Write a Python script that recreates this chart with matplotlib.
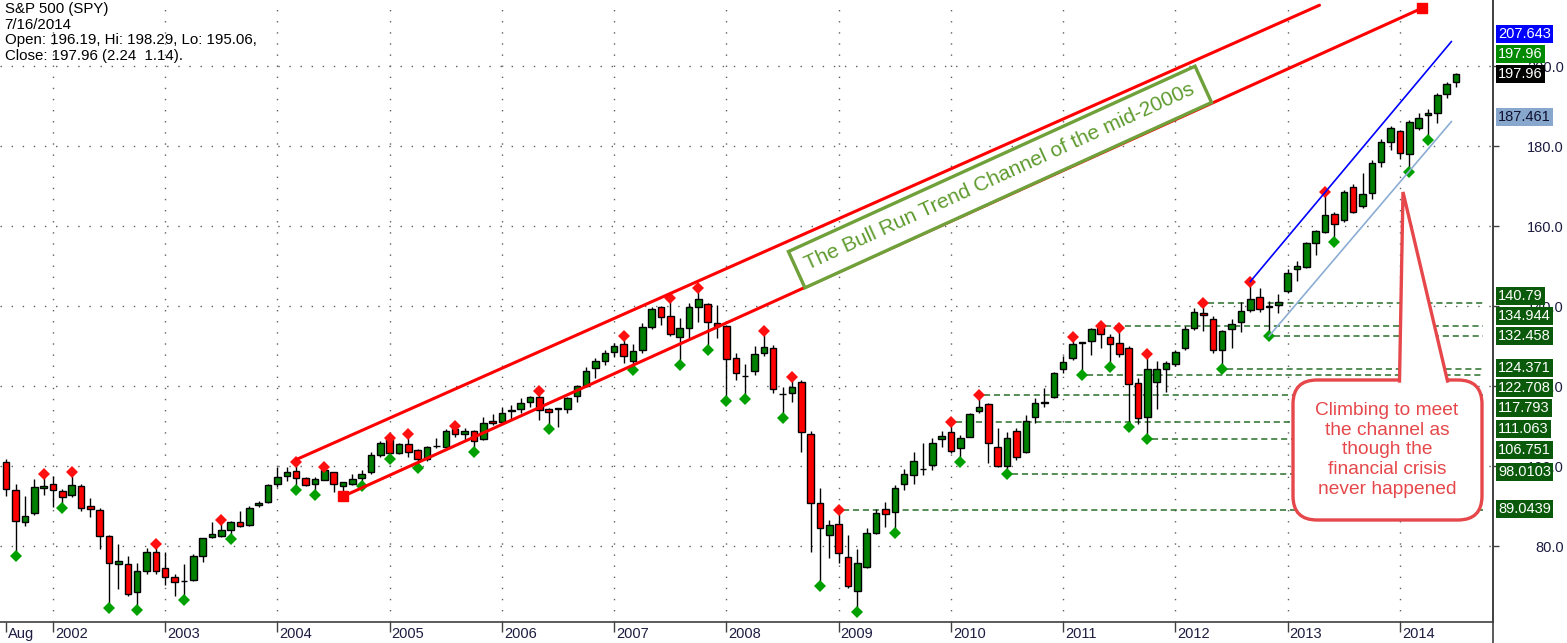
import matplotlib
matplotlib.use("Agg")
import matplotlib.pyplot as plt
import numpy as np
import pandas as pd
from matplotlib.patches import FancyBboxPatch, Polygon
from matplotlib.lines import Line2D
from matplotlib.transforms import Affine2D, ScaledTranslation

plt.rcParams['font.family'] = ['Liberation Sans', 'DejaVu Sans']

# monthly SPY bars, Aug 2001 .. Jul 2014
opens = [101.1, 94.1, 86.0, 88.3, 94.5,
         95.6, 93.7, 92.7, 95.0, 89.9, 88.9, 82.6, 75.5, 75.5, 68.6, 73.8, 78.6,
         74.4, 72.3, 71.3, 71.5, 77.4, 82.2, 82.5, 84.1, 85.9, 85.3, 90.3, 91.1,
         95.6, 97.6, 98.8, 97.1, 95.4, 96.6, 98.5, 95.0, 95.6, 97.1, 98.5, 102.75,
         106.7, 103.3, 105.5, 104.0, 101.7, 104.9, 104.8, 109.2, 108.0, 108.8, 106.7, 111.3,
         111.1, 113.7, 114.2, 116.0, 117.3, 114.2, 114.3, 114.2, 117.5, 120.0, 124.4, 126.3,
         128.6, 130.4, 126.25, 129.0, 134.8, 139.7, 137.5, 132.3, 134.4, 139.8, 140.5, 135.8,
         135.0, 126.9, 122.6, 123.8, 128.3, 129.4, 118.1, 118.2, 121.1, 108.0, 90.8, 82.8,
         85.5, 77.3, 68.8, 74.7, 83.2, 89.2, 88.6, 95.4, 97.75, 99.3, 100.25, 106.7,
         108.6, 104.4, 107.3, 113.8, 115.4, 104.8, 100.0, 108.8, 103.5, 112.3, 115.9, 117.3,
         124.2, 126.9, 130.9, 131.3, 134.4, 132.2, 130.8, 129.4, 120.7, 112.3, 121.0, 124.2,
         125.6, 129.4, 134.4, 138.2, 136.7, 128.9, 134.2, 136.1, 139.0, 142.3, 140.0, 140.25,
         143.8, 149.2, 149.8, 155.8, 158.6, 162.9, 161.5, 169.8, 165.0, 168.2, 176.1, 181.1,
         183.8, 177.9, 184.6, 187.75, 188.2, 193.0, 196.1]
highs = [101.7, 95.6, 92.6, 96.8, 98.1,
         97.4, 94.2, 98.5, 95.6, 92.1, 89.4, 82.7, 80.6, 77.4, 75.7, 79.5, 80.6,
         78.5, 72.9, 75.5, 77.9, 82.1, 85.9, 86.5, 86.2, 88.8, 90.0, 91.2, 95.6,
         99.8, 99.7, 100.9, 97.3, 97.3, 99.7, 98.5, 96.1, 98.1, 98.9, 103.4, 106.2,
         107.1, 105.8, 107.9, 104.2, 104.9, 106.9, 109.2, 110.0, 109.4, 109.0, 112.3, 113.0,
         114.8, 115.25, 116.9, 117.6, 118.8, 114.4, 114.6, 117.3, 120.25, 124.7, 126.9, 129.0,
         130.7, 132.5, 130.5, 135.7, 139.7, 140.0, 141.9, 136.9, 140.7, 144.4, 140.7, 140.25,
         135.25, 128.3, 125.5, 130.0, 133.8, 130.25, 119.8, 122.3, 121.5, 108.8, 94.4, 86.5,
         89.04, 82.75, 79.2, 84.4, 89.2, 91.1, 95.2, 99.2, 103.6, 105.8, 106.9, 108.8,
         111.06, 107.75, 113.2, 117.79, 115.8, 109.4, 108.6, 109.4, 112.75, 116.9, 119.4, 123.6,
         127.5, 132.3, 131.1, 134.5, 134.944, 132.9, 134.6, 130.0, 122.0, 128.0, 126.3, 126.3,
         129.0, 134.9, 139.4, 140.79, 137.4, 134.0, 136.7, 141.0, 146.1, 144.4, 141.2, 142.9,
         149.2, 151.3, 156.1, 159.0, 168.4, 163.6, 169.0, 170.5, 173.3, 176.5, 181.7, 185.0,
         184.0, 186.5, 188.2, 189.2, 193.2, 196.1, 198.29]
lows = [92.6, 77.6, 85.1, 87.7, 92.8,
        89.8, 89.4, 92.3, 88.7, 87.2, 79.3, 64.4, 69.2, 67.5, 63.9, 73.0, 73.0,
        70.2, 67.5, 66.5, 71.2, 76.0, 82.1, 82.3, 81.7, 84.8, 85.0, 89.8, 90.7,
        94.7, 96.3, 93.9, 94.9, 92.8, 96.4, 93.5, 92.6, 95.2, 94.9, 98.0, 102.3,
        101.75, 103.1, 102.3, 99.6, 101.3, 104.6, 104.4, 107.3, 106.5, 103.6, 106.5, 110.3,
        110.5, 111.5, 113.2, 114.7, 111.5, 109.25, 109.8, 113.3, 116.1, 119.8, 121.9, 125.25,
        127.2, 125.8, 124.0, 128.3, 134.2, 135.25, 132.5, 125.25, 131.9, 136.1, 129.0, 131.9,
        116.25, 121.5, 116.7, 122.8, 127.5, 118.2, 111.9, 116.1, 103.6, 78.6, 70.0, 76.9,
        75.7, 69.4, 63.6, 74.5, 82.9, 84.8, 83.3, 94.0, 95.5, 97.75, 99.0, 104.8,
        103.2, 101.1, 107.2, 113.3, 100.8, 99.8, 98.01, 101.5, 103.2, 110.7, 114.7, 116.9,
        123.2, 126.5, 122.71, 127.75, 129.4, 124.7, 127.2, 109.8, 110.4, 106.751, 114.3, 118.5,
        125.0, 128.9, 133.9, 133.8, 128.2, 124.371, 129.4, 133.6, 138.6, 138.6, 132.458, 138.2,
        143.3, 146.2, 149.4, 152.75, 158.2, 155.9, 161.1, 163.2, 164.4, 166.7, 174.8, 179.0,
        176.7, 173.6, 183.9, 181.5, 185.7, 191.9, 194.8]
closes = [94.3, 86.3, 87.6, 94.7, 95.1,
          94.1, 92.2, 95.3, 89.6, 89.2, 82.5, 75.7, 76.3, 68.0, 73.8, 78.6, 73.7,
          72.3, 70.9, 71.2, 77.4, 81.9, 82.9, 84.0, 85.9, 85.1, 89.6, 90.8, 95.3,
          97.3, 98.5, 97.1, 95.3, 96.8, 99.0, 95.6, 95.9, 96.8, 98.1, 102.75, 105.8,
          103.3, 105.5, 103.6, 101.7, 104.8, 105.1, 108.8, 108.0, 108.8, 106.3, 110.7, 110.7,
          113.2, 113.9, 115.7, 117.3, 114.0, 113.6, 114.5, 116.9, 120.0, 123.8, 126.3, 128.2,
          130.0, 127.5, 128.8, 134.7, 139.2, 137.3, 133.0, 134.4, 139.8, 141.7, 136.1, 135.0,
          126.7, 123.3, 122.4, 128.0, 129.8, 119.2, 117.9, 119.8, 108.6, 90.8, 84.4, 85.2,
          78.2, 70.0, 75.8, 83.2, 88.2, 88.0, 94.4, 97.9, 101.3, 99.2, 105.7, 107.6,
          103.8, 106.9, 112.9, 114.7, 105.7, 100.0, 107.1, 102.3, 111.3, 115.7, 115.8, 123.2,
          126.1, 130.4, 130.7, 134.2, 132.9, 130.5, 128.0, 120.4, 112.0, 124.3, 124.2, 125.7,
          128.6, 134.2, 138.4, 137.75, 129.0, 133.8, 135.4, 138.8, 141.7, 139.2, 139.7, 141.1,
          148.3, 150.1, 155.8, 158.8, 162.75, 160.4, 168.6, 163.6, 168.0, 175.8, 181.1, 184.4,
          178.2, 186.1, 186.9, 188.2, 192.75, 195.5, 197.96]

# swing markers (bar indices)
high_marks = [4, 7, 16, 23, 31, 34, 41, 43, 48, 57, 66, 71, 74, 81, 84, 89, 101, 104,
              114, 117, 119, 122, 128, 133, 141]
low_marks = [1, 6, 11, 14, 19, 24, 31, 33, 38, 41, 44, 50, 58, 67, 72, 75, 77, 79, 83, 87,
             91, 95, 102, 107, 115, 118, 120, 122, 130, 135, 142, 150, 152]

# support / resistance levels and the bar they start from
level_values = [140.79, 134.944, 132.458, 124.371, 122.708, 117.793, 111.063, 106.751, 98.0103, 89.0439]
level_labels = ['140.79', '134.944', '132.458', '124.371', '122.708', '117.793', '111.063',
                '106.751', '98.0103', '89.0439']
level_start = [128, 117, 135, 130, 115, 104, 101, 122, 107, 89]

# trend lines (bar index, price)
upper_x, upper_y = [31, 140.4], [101.6, 215.2]
lower_x, lower_y = [36, 151.4], [92.4, 214.5]
blue_x, blue_y = [133, 154.5], [146.1, 206.1]
lblue_x, lblue_y = [135, 154.5], [132.458, 186.1]

months = pd.period_range('2001-08', periods=len(opens), freq='M')
o, h, l, c = map(np.array, (opens, highs, lows, closes))
idx = np.arange(len(o))

W, H = 1567, 643
fig = plt.figure(figsize=(W / 100, H / 100), dpi=100)
fig.patch.set_facecolor('white')
ax = fig.add_axes([0, 21 / H, 1493 / W, 622 / H])
# reference-pixel transform for layout items
px = Affine2D().scale(0.01, -0.01).translate(0, H / 100) + fig.dpi_scale_trans

ax.set_xlim(-0.663, 158.95)
ax.set_ylim(61.0, 216.5)

# grid
grid_kw = dict(color='#606060', lw=1.0, ls=(0, (1, 7)), zorder=0)
year_ticks = [i for i, m in enumerate(months) if m.month == 1]
for i in year_ticks:
    ax.axvline(i, **grid_kw)
yt = np.arange(80, 201, 20)
for v in yt:
    ax.axhline(v, **grid_kw)

# candles
up = c >= o
ax.vlines(idx, l, h, color='black', lw=1.0, zorder=3)
ax.bar(idx, np.abs(c - o), bottom=np.minimum(o, c), width=0.7,
       color=np.where(up, '#008000', '#ff0000'), edgecolor='black', lw=1.0, zorder=4)

# swing markers
ax.plot(high_marks, h[high_marks], 'D', color='#ff1010', ms=6.5, mew=0, zorder=5)
ax.plot(low_marks, l[low_marks], 'D', color='#00a000', ms=6.5, mew=0, zorder=5)

# horizontal levels
for v, s in zip(level_values, level_start):
    ax.plot([s + 0.5, 157.9], [v, v], color='#2a6e2a', lw=1.1, ls=(0, (4, 2.5)), zorder=2)

# channel lines
ax.plot(upper_x, upper_y, color='#ff0000', lw=2.2, zorder=6, solid_capstyle='round')
ax.plot(lower_x, lower_y, color='#ff0000', lw=2.2, zorder=6, solid_capstyle='round')
ax.plot([lower_x[0], lower_x[-1]], [lower_y[0], lower_y[-1]], 's', color='#ff0000', ms=7, zorder=6)
ax.plot(blue_x, blue_y, color='#0000ff', lw=1.2, zorder=6)
ax.plot(lblue_x, lblue_y, color='#8cadd3', lw=1.2, zorder=6)

# axes styling
for side in ['top', 'left']:
    ax.spines[side].set_visible(False)
ax.spines['right'].set_color('#404040')
ax.spines['bottom'].set_color('#404040')
ax.spines['right'].set_linewidth(1.2)
ax.spines['bottom'].set_linewidth(1.2)
fig.add_artist(Line2D([1493 / W, 1493 / W], [0, 1], transform=fig.transFigure,
                      color='#404040', lw=1.2))

ax.yaxis.tick_right()
ax.set_yticks(yt)
ax.set_yticklabels([f'{v:.1f}' for v in yt])
ax.tick_params(axis='y', length=4, width=1, color='#404040', labelsize=10.5,
               labelcolor='#1c1c40', pad=47)
for lbl in ax.get_yticklabels():
    lbl.set_ha('right')

xt = [0] + year_ticks
ax.set_xticks(xt)
ax.set_xticklabels(['Aug'] + [str(months[i].year) for i in year_ticks])
ax.tick_params(axis='x', length=7, width=1, color='#404040', labelsize=10.5,
               labelcolor='#1c1c40', pad=-3.5)
for lbl in ax.get_xticklabels():
    lbl.set_ha('left')
    lbl.set_transform(lbl.get_transform() + ScaledTranslation(0.02, 0, fig.dpi_scale_trans))

# right-axis value tags
tag_text = ['207.643', '197.96', '197.96', '187.461'] + level_labels
tag_fc = ['#0000ff', '#008a00', '#000000', '#87a8cc'] + ['#0b5a0b'] * len(level_labels)
tag_tc = ['white', 'white', 'white', '#101030'] + ['white'] * len(level_labels)
tag_y_px = [34, 54, 74, 117, 296, 316, 336, 368, 388, 408, 429, 450, 472, 509]
for s, fc, tc, y in zip(tag_text, tag_fc, tag_tc, tag_y_px):
    ax.text(1498, y, s, transform=px, ha='left', va='center', fontsize=10.5, color=tc,
            zorder=10, clip_on=False,
            bbox=dict(boxstyle='square,pad=0.15', fc=fc, ec='none'))

# header text
fig.text(0.003, 0.997, 'S&P 500 (SPY)\n7/16/2014\nOpen: 196.19, Hi: 198.29, Lo: 195.06,\n'
         'Close: 197.96 (2.24  1.14).', ha='left', va='top', fontsize=10.8,
         color='black', linespacing=1.15)

# channel caption box
ax.text(1000, 177, 'The Bull Run Trend Channel of the mid-2000s', transform=px,
        rotation=24.5, rotation_mode='anchor', ha='center', va='center',
        fontsize=15, color='#5f9b2f', zorder=9,
        bbox=dict(boxstyle='square,pad=0.5', fc='white', ec='#6fa03a', lw=2.4))

# callout
red = '#e6474a'
ax.add_patch(FancyBboxPatch((1293, 380), 189, 140, transform=px,
                            boxstyle='round,pad=0,rounding_size=24',
                            fc='white', ec=red, lw=2.4, zorder=9, clip_on=False))
ax.add_patch(Polygon([(1399.5, 385), (1403, 192), (1447.5, 385)], closed=True,
                     transform=px, fc='white', ec='none', zorder=10, clip_on=False))
ax.add_artist(Line2D([1399.5, 1403, 1447.5], [381, 192, 381], transform=px,
                     color=red, lw=2.4, zorder=11, solid_joinstyle='miter'))
ax.text(1387, 450, 'Climbing to meet\nthe channel as\nthough the\nfinancial crisis\nnever happened',
        transform=px, ha='center', va='center', fontsize=13.8, color=red,
        linespacing=1.22, zorder=12)

fig.savefig('out.png', dpi=100, facecolor='white')
